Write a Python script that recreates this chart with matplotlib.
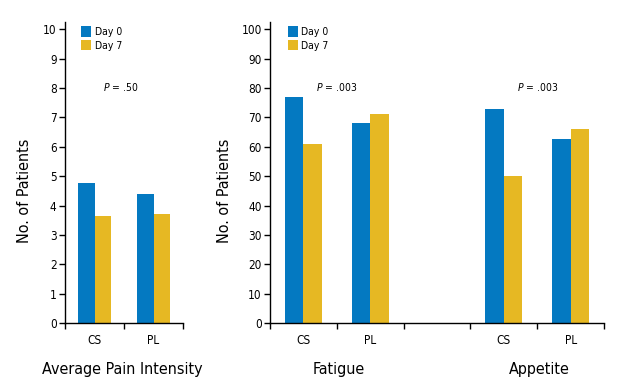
import matplotlib
matplotlib.use('Agg')
import matplotlib.pyplot as plt
from matplotlib import font_manager
import numpy as np

# pick a condensed sans if one is around, else plain Liberation Sans
narrow = [f.name for f in font_manager.fontManager.ttflist
          if 'Narrow' in f.name or 'Condensed' in f.name
          or f.stretch in ('condensed', 'semi-condensed', 'extra-condensed')]
fam = narrow[0] if narrow else 'Liberation Sans'
stretch = 'condensed' if narrow else 'normal'
plt.rcParams['font.family'] = [fam, 'DejaVu Sans']
plt.rcParams['font.stretch'] = stretch

# data
groups = ['CS', 'PL']
pain_day0 = [4.75, 4.38]
pain_day7 = [3.65, 3.72]

fatigue_day0 = [77, 68]
fatigue_day7 = [61, 71]
appetite_day0 = [73, 62.5]
appetite_day7 = [50, 66]

blue = '#0479c1'
yellow = '#e6b823'
bw = 0.28
big = 11.5 if narrow else 11

fig = plt.figure(figsize=(6.21, 3.87), dpi=100)
ax1 = fig.add_axes([0.1047, 0.1654, 0.190, 0.7786])
ax2 = fig.add_axes([0.4348, 0.1654, 0.5378, 0.7786])


def style(ax, ymax, step, labx):
    for s in ['top', 'right']:
        ax.spines[s].set_visible(False)
    ax.spines['left'].set_linewidth(1.0)
    ax.spines['bottom'].set_linewidth(1.0)
    ax.set_yticks(np.arange(0, ymax + 1, step))
    ax.tick_params(axis='y', direction='out', length=4, width=1, labelsize=8.5, pad=2)
    ax.tick_params(axis='x', which='major', direction='out', length=4, width=1, labelbottom=False)
    ax.tick_params(axis='x', which='minor', length=0, labelsize=8.5, pad=8)
    ax.set_ylabel('No. of Patients', fontsize=big)
    ax.yaxis.set_label_coords(labx, 0.44)


# left panel
x = np.arange(len(groups)) + 0.5
ax1.bar(x - bw / 2, pain_day0, bw, color=blue, label='Day 0')
ax1.bar(x + bw / 2, pain_day7, bw, color=yellow, label='Day 7')
ax1.set_xlim(0, 2)
ax1.set_ylim(0, 10.26)
style(ax1, 10, 1, -0.28)
ax1.set_xticks([0, 1, 2])
ax1.set_xticks(x, minor=True)
ax1.set_xticklabels(groups, minor=True)
ax1.text(0.97, -0.155, 'Average Pain Intensity', transform=ax1.get_xaxis_transform(),
         ha='center', va='center', fontsize=big)
ax1.text(0.95, 8.05, r'$P$ = .50', ha='center', va='center', fontsize=7.5)
ax1.legend(loc='upper left', bbox_to_anchor=(0.1, 1.0), frameon=False, fontsize=7.5,
           handlelength=1.0, handleheight=1.2, handletextpad=0.3, labelspacing=0.3,
           borderaxespad=0)

# right panel
xf = np.arange(2) + 0.5
xa = np.arange(2) + 3.5
ax2.bar(xf - bw / 2, fatigue_day0, bw, color=blue, label='Day 0')
ax2.bar(xf + bw / 2, fatigue_day7, bw, color=yellow, label='Day 7')
ax2.bar(xa - bw / 2, appetite_day0, bw, color=blue)
ax2.bar(xa + bw / 2, appetite_day7, bw, color=yellow)
ax2.set_xlim(0, 5)
ax2.set_ylim(0, 102.6)
style(ax2, 100, 10, -0.114)
ax2.set_xticks([0, 1, 2, 3, 4, 5])
ax2.set_xticks(np.concatenate([xf, xa]), minor=True)
ax2.set_xticklabels(groups + groups, minor=True)
ax2.text(1.03, -0.155, 'Fatigue', transform=ax2.get_xaxis_transform(),
         ha='center', va='center', fontsize=big)
ax2.text(4.03, -0.155, 'Appetite', transform=ax2.get_xaxis_transform(),
         ha='center', va='center', fontsize=big)
ax2.text(1.0, 80.5, r'$P$ = .003', ha='center', va='center', fontsize=7.5)
ax2.text(4.0, 80.5, r'$P$ = .003', ha='center', va='center', fontsize=7.5)
ax2.legend(loc='upper left', bbox_to_anchor=(0.04, 1.0), frameon=False, fontsize=7.5,
           handlelength=1.0, handleheight=1.2, handletextpad=0.3, labelspacing=0.3,
           borderaxespad=0)

fig.savefig('out.png', dpi=100)
